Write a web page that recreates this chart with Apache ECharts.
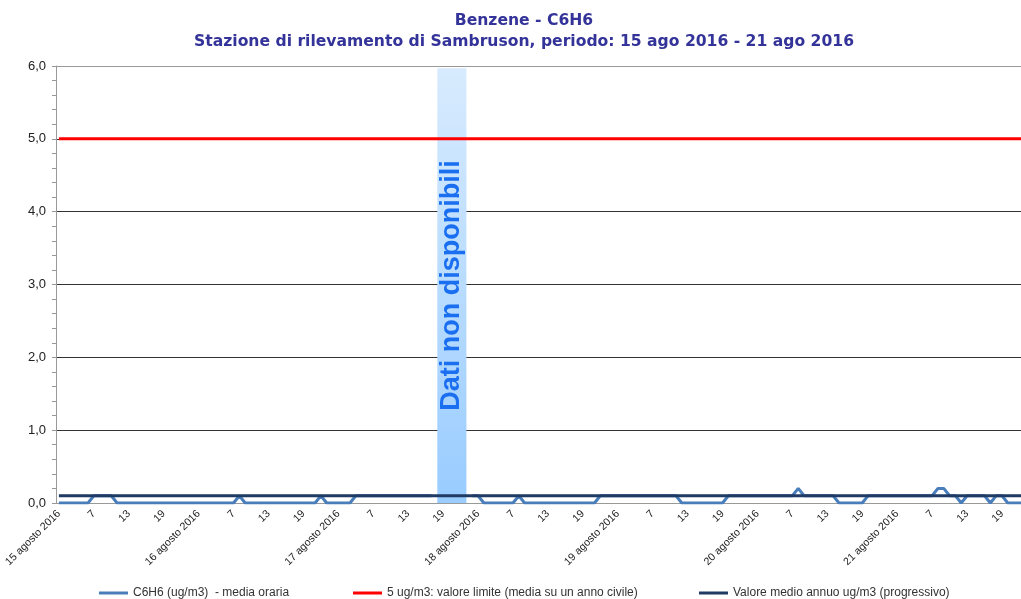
<!DOCTYPE html>
<html>
<head>
<meta charset="utf-8">
<script src="https://cdn.jsdelivr.net/npm/echarts@6/dist/echarts.min.js"></script>
<style>html,body{margin:0;padding:0;background:#fff;overflow:hidden}#c{width:1034px;height:599px}</style>
</head>
<body>
<div id="c"></div>
<script>
// Days and hour labels
const days = ['15 agosto 2016','16 agosto 2016','17 agosto 2016','18 agosto 2016','19 agosto 2016','20 agosto 2016','21 agosto 2016'];
const hoursPerDay = 24;
// Hourly C6H6 values (ug/m3), one list per day, 24 values each
const c6h6Day15 = [0,0,0,0,0,0,0.1,0.1,0.1,0.1,0,0,0,0,0,0,0,0,0,0,0,0,0,0];
const c6h6Day16 = [0,0,0,0,0,0,0,0.1,0,0,0,0,0,0,0,0,0,0,0,0,0,0.1,0,0];
const c6h6Day17 = [0,0,0,0.1,0.1,0.1,0.1,0.1,0.1,0.1,0.1,0.1,0.1,0.1,0.1,0.1,0.1,null,null,null,null,null,null,0.1];
const c6h6Day18 = [0.1,0,0,0,0,0,0,0.1,0,0,0,0,0,0,0,0,0,0,0,0,0,0.1,0.1,0.1];
const c6h6Day19 = [0.1,0.1,0.1,0.1,0.1,0.1,0.1,0.1,0.1,0.1,0.1,0,0,0,0,0,0,0,0,0.1,0.1,0.1,0.1,0.1];
const c6h6Day20 = [0.1,0.1,0.1,0.1,0.1,0.1,0.1,0.2,0.1,0.1,0.1,0.1,0.1,0.1,0,0,0,0,0,0.1,0.1,0.1,0.1,0.1];
const c6h6Day21 = [0.1,0.1,0.1,0.1,0.1,0.1,0.1,0.2,0.2,0.1,0.1,0,0.1,0.1,0.1,0.1,0,0.1,0.1,0,0,0,0,0];
const limitValue = 5;
const annualMean = 0.1;
const gapStart = 65, gapEnd = 70;

const categories = [];
days.forEach(d => { for (let h = 1; h <= hoursPerDay; h++) categories.push(h === 1 ? d : String(h)); });
const c6h6 = [].concat(c6h6Day15,c6h6Day16,c6h6Day17,c6h6Day18,c6h6Day19,c6h6Day20,c6h6Day21);
const limitSeries = categories.map(() => limitValue);
const meanSeries = categories.map(() => annualMean);

const names = ['C6H6 (ug/m3)  - media oraria','5 ug/m3: valore limite (media su un anno civile)','Valore medio annuo ug/m3 (progressivo)'];
const colors = ['#4a7ebb','#ff0000','#1f3a63'];
const font = 'Liberation Sans, Arial, sans-serif';

const chart = echarts.init(document.getElementById('c'));
const legendBase = {top: 587, padding: 0, icon: 'rect', itemWidth: 29, itemHeight: 3, itemGap: 0,
  textStyle: {fontFamily: font, fontSize: 12, color: '#333'}, selectedMode: false};
chart.setOption({
  animation: false,
  title: {
    text: 'Benzene - C6H6\nStazione di rilevamento di Sambruson, periodo: 15 ago 2016 - 21 ago 2016',
    left: 519, top: 5, textAlign: 'center',
    textStyle: {fontFamily: 'DejaVu Sans, Verdana, sans-serif', fontWeight: 'bold', fontSize: 15.6, color: '#333399', lineHeight: 21}
  },
  legend: [
    Object.assign({}, legendBase, {left: 99, data: [names[0]]}),
    Object.assign({}, legendBase, {left: 353, data: [names[1]]}),
    Object.assign({}, legendBase, {left: 699, data: [names[2]]})
  ],
  grid: {left: 56, right: 0, top: 66, bottom: 96, containLabel: false},
  xAxis: {
    type: 'category', data: categories, boundaryGap: true,
    axisLine: {lineStyle: {color: '#999', width: 1}},
    axisTick: {interval: 5, length: 5, lineStyle: {color: '#999'}},
    axisLabel: {interval: 5, rotate: 45, fontFamily: font, fontSize: 10.6, color: '#222', margin: 9},
    splitLine: {show: false}
  },
  yAxis: {
    type: 'value', min: 0, max: 6, interval: 1,
    axisLine: {show: true, lineStyle: {color: '#999'}},
    axisTick: {show: true, length: 4, lineStyle: {color: '#999'}},
    minorTick: {show: true, splitNumber: 5, length: 4, lineStyle: {color: '#999'}},
    axisLabel: {formatter: v => v.toFixed(1).replace('.', ','), fontFamily: font, fontSize: 13, color: '#222', margin: 10},
    splitLine: {show: true, lineStyle: {color: ['#999','#333','#333','#333','#333','#333','#999'], width: 1}}
  },
  series: [
    {name: names[0], type: 'line', data: c6h6, symbol: 'none', lineStyle: {color: colors[0], width: 3}, itemStyle: {color: colors[0]}, z: 2},
    {name: names[1], type: 'line', data: limitSeries, symbol: 'none', lineStyle: {color: colors[1], width: 3}, itemStyle: {color: colors[1]}, z: 3},
    {name: names[2], type: 'line', data: meanSeries, symbol: 'none', lineStyle: {color: colors[2], width: 3}, itemStyle: {color: colors[2]}, z: 4},
    {name: 'gap', type: 'line', data: [], z: 10,
      markArea: {silent: true,
        itemStyle: {color: {type: 'linear', x: 0, y: 0, x2: 0, y2: 1, colorStops: [{offset: 0, color: '#d8ebfe'}, {offset: 1, color: '#99ccff'}]}},
        label: {show: true, position: 'inside', rotate: 90, formatter: 'Dati non disponibili',
          fontFamily: font, fontWeight: 'bold', fontSize: 27, color: '#1a6ef0'},
        data: [[{xAxis: gapStart, yAxis: 5.97}, {xAxis: gapEnd, yAxis: 0}]]
      }
    }
  ]
});
</script>
</body>
</html>
